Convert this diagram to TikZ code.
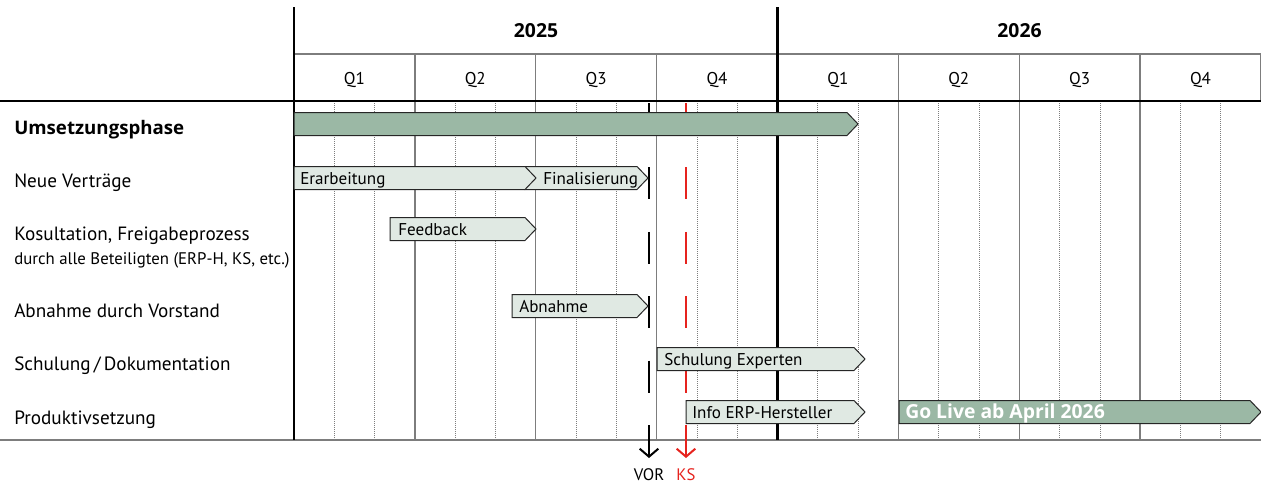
\documentclass[tikz,border=0pt]{standalone}
\usepackage{fontspec}
\setmainfont{PT Sans}
\newfontfamily\boldfam{Open Sans}
\usetikzlibrary{arrows.meta}
\definecolor{barlight}{RGB}{224,233,227}
\definecolor{bardark}{RGB}{155,184,165}
\definecolor{ksred}{RGB}{230,35,30}
\definecolor{gridgray}{RGB}{125,125,125}
\tikzset{
    BA1/.style ={draw=black!85, fill=barlight, line width=0.75pt},
    BA2/.style ={draw=black!85, fill=bardark, line width=0.75pt},
    QL/.style ={draw=gridgray, line width=1.1pt},
    ML/.style ={draw=gridgray, densely dotted, line width=0.5pt},
    YL/.style ={draw=black, line width=1.6pt},
    LB/.style ={anchor=base west, inner sep=0pt, font=\fontsize{14.4}{16}\selectfont},
    TX/.style ={anchor=base west, inner sep=0pt, font=\fontsize{12.8}{15}\selectfont},
    BF/.style ={font=\boldfam\bfseries\fontsize{14.5}{16}\selectfont},
    MK/.style ={line width=1.5pt, dash pattern=on 24pt off 24.3pt, -{Straight Barb[length=6pt,width=14pt]}}}

% name, style, x1, x2, y, text x, text
\newcommand{\gbar}[7]{%
    \draw[#2] (#3,#5-11.5) -- (#4-11,#5-11.5) -- (#4,#5) -- (#4-11,#5+11.5) -- (#3,#5+11.5) -- cycle;
    \node[TX] (#1) at (#6,#5+6) {#7};}

\begin{document}
\begin{tikzpicture}[x=0.75pt,y=-0.75pt]
        \useasboundingbox (0,0) rectangle (1261,483);
        % grid
        \foreach \q in {0,...,7}
            \foreach \m in {1,2}
                \draw[ML] (294+120.875*\q+40.29*\m,101) -- ++(0,339);
        \foreach \q in {1,2,3,5,6,7}
            \draw[QL] (294+120.875*\q,54) -- (294+120.875*\q,440);
        \draw[QL] (294,54) -- (1261,54);
        \draw[QL] (1260.5,54) -- (1260.5,101);
        \draw[QL] (0,440) -- (1261,440);
        \draw[YL] (294,7) -- (294,440);
        \draw[YL] (777.5,7) -- (777.5,440);
        \draw[draw=black, line width=1.9pt] (0,101) -- (1261,101);
        % header
        \node[BF] (y25) at (536,31) {2025};
        \node[BF] (y26) at (1019.5,31) {2026};
        \foreach \t [count=\i from 0] in {Q1,Q2,Q3,Q4,Q1,Q2,Q3,Q4}
            \node[font=\fontsize{12.8}{15}\selectfont] (q\i) at (354.4+120.875*\i,80) {\t};
        % rows
        \node[LB, font=\boldfam\bfseries\fontsize{14}{16}\selectfont] (umsetz) at (14,134) {Umsetzungsphase};
        \node[LB] (vertrag) at (14,187) {Neue Verträge};
        \node[LB] (kons) at (14,240) {Kosultation, Freigabeprozess};
        \node[LB, font=\fontsize{12.6}{14}\selectfont] (kons2) at (14,264) {durch alle Beteiligten (ERP-H, KS, etc.)};
        \node[LB] (abn) at (14,317) {Abnahme durch Vorstand};
        \node[LB] (schul) at (14,370) {Schulung\,/\,Dokumentation};
        \node[LB] (prod) at (14,424) {Produktivsetzung};
        % milestones
        \coordinate (vortop) at (649,103);
        \coordinate (vorend) at (649,458);
        \coordinate (kstop) at (686,103);
        \coordinate (ksend) at (686,458);
        \draw[MK, black] (vortop) -- (vorend);
        \draw[MK, ksred] (kstop) -- (ksend);
        \node[font=\fontsize{12.5}{14}\selectfont, anchor=base] (vor) at (649,480) {VOR};
        \node[font=\fontsize{12.5}{14}\selectfont, anchor=base, text=ksred] (ks) at (686,480) {KS};
        % bars
        \draw[BA2] (294,112.5) -- (847,112.5) -- (858,124) -- (847,135.5) -- (294,135.5) -- cycle;
        \gbar{final}{BA1}{525}{648}{178}{543}{Finalisierung}
        \gbar{erarb}{BA1}{294}{536}{178}{300}{Erarbeitung}
        \gbar{feed}{BA1}{390}{536}{229}{398}{Feedback}
        \gbar{abnahme}{BA1}{512}{648}{306}{519}{Abnahme}
        \gbar{exp}{BA1}{657}{865}{359}{664}{Schulung Experten}
        \gbar{info}{BA1}{686}{865}{412}{692}{Info ERP-Hersteller}
        \gbar{golive}{BA2}{899}{1261}{412}{905}{\textcolor{white}{\boldfam\bfseries\fontsize{14.5}{16}\selectfont Go Live ab April 2026}}
    \end{tikzpicture}
\end{document}
